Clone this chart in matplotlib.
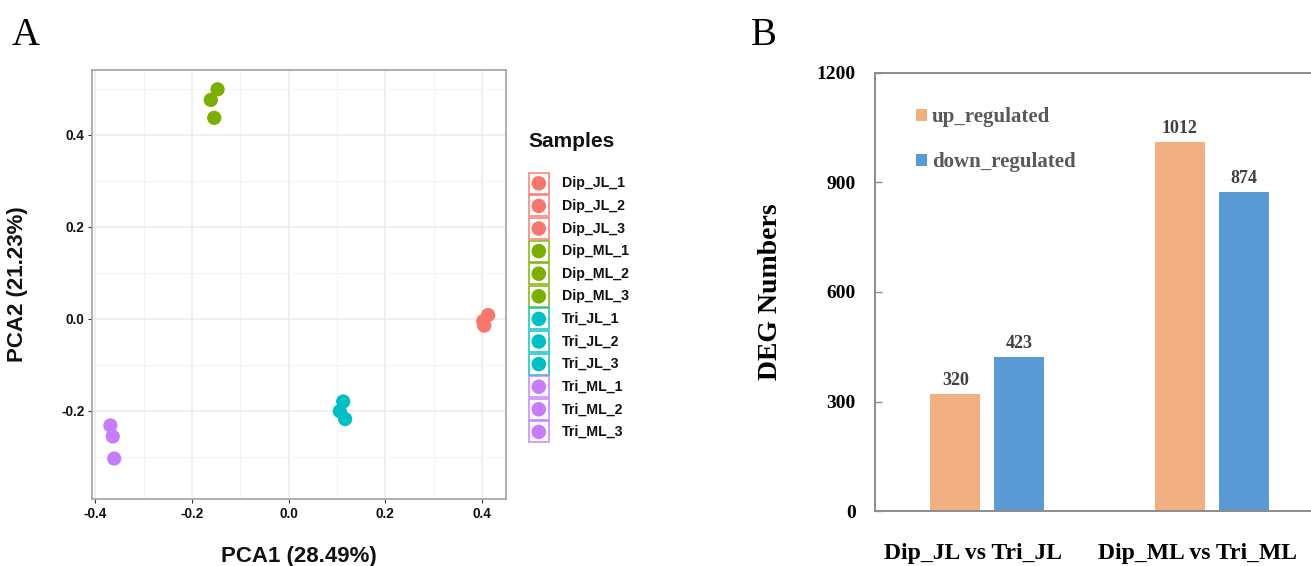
import matplotlib
matplotlib.use("Agg")
import matplotlib.pyplot as plt
from matplotlib.patches import Rectangle
from matplotlib.transforms import ScaledTranslation
import numpy as np

# ---------------- data ----------------
samples = ["Dip_JL_1", "Dip_JL_2", "Dip_JL_3",
           "Dip_ML_1", "Dip_ML_2", "Dip_ML_3",
           "Tri_JL_1", "Tri_JL_2", "Tri_JL_3",
           "Tri_ML_1", "Tri_ML_2", "Tri_ML_3"]
pc1 = [0.413, 0.403, 0.405, -0.147, -0.161, -0.154,
       0.113, 0.106, 0.117, -0.369, -0.364, -0.361]
pc2 = [0.008, -0.005, -0.015, 0.499, 0.476, 0.437,
       -0.180, -0.201, -0.218, -0.232, -0.256, -0.304]
group_colors = ["#F8766D", "#7CAE00", "#00BFC4", "#C77CFF"]
sample_colors = [c for c in group_colors for _ in range(3)]

comparisons = ["Dip_JL vs Tri_JL", "Dip_ML vs Tri_ML"]
up_regulated = [320, 1012]
down_regulated = [423, 874]
series_names = ["up_regulated", "down_regulated"]
bar_colors = ["#F2AF82", "#5B9BD5"]

W, H = 1311, 566
fig = plt.figure(figsize=(W / 100, H / 100), dpi=100)

SANS = ["Liberation Sans", "DejaVu Sans"]
SERIF = ["Liberation Serif", "DejaVu Serif"]

# ---------------- Panel A: PCA ----------------
axA = fig.add_axes([92 / W, 1 - 499 / H, 414 / W, 429 / H])
axA.set_facecolor("white")
axA.scatter(pc1, pc2, s=105, c=sample_colors, edgecolors="none", zorder=3)
axA.set_xlim(-0.407, 0.45)
axA.set_ylim(-0.392, 0.541)
axA.set_xticks([-0.4, -0.2, 0.0, 0.2, 0.4])
axA.set_yticks([-0.2, 0.0, 0.2, 0.4])
axA.set_xticks([-0.3, -0.1, 0.1, 0.3], minor=True)
axA.set_yticks([-0.3, -0.1, 0.1, 0.3, 0.5], minor=True)
axA.grid(which="major", color="#EBEBEB", linewidth=1.1, zorder=0)
axA.grid(which="minor", color="#F3F3F3", linewidth=0.8, zorder=0)
axA.set_axisbelow(True)
axA.set_xticklabels(["-0.4", "-0.2", "0.0", "0.2", "0.4"])
axA.set_yticklabels(["-0.2", "0.0", "0.2", "0.4"])
axA.tick_params(which="major", length=3, width=0.8, color="#333333",
                labelsize=9.8, pad=2.5, labelcolor="#111111")
axA.tick_params(which="minor", length=0)
for lab in axA.get_xticklabels() + axA.get_yticklabels():
    lab.set_fontfamily(SANS)
    lab.set_fontweight("bold")
for sp in axA.spines.values():
    sp.set_color("#A8A8A8")
    sp.set_linewidth(1.3)
axA.set_xlabel("PCA1 (28.49%)", fontsize=16, fontweight="bold",
               family=SANS, labelpad=18, color="#111111")
axA.set_ylabel("PCA2 (21.23%)", fontsize=16, fontweight="bold",
               family=SANS, labelpad=24, color="#111111")

# ---------------- Panel B: DEG bars ----------------
axB = fig.add_axes([875 / W, 1 - 511 / H, 449 / W, 438 / H])
x = np.arange(len(comparisons))
bw = 0.222
off = 0.142
b_up = axB.bar(x - off, up_regulated, width=bw, color=bar_colors[0],
               label=series_names[0], zorder=2)
b_dn = axB.bar(x + off, down_regulated, width=bw, color=bar_colors[1],
               label=series_names[1], zorder=2)
for bars, vals in [(b_up, up_regulated), (b_dn, down_regulated)]:
    for rect, v in zip(bars, vals):
        axB.annotate(str(v), (rect.get_x() + rect.get_width() / 2, v),
                     xytext=(0, 3.5), textcoords="offset points",
                     ha="center", va="bottom", fontsize=13,
                     fontweight="bold", family=SERIF, color="#404040")
axB.set_xlim(-0.5, 1.5)
axB.set_ylim(0, 1200)
axB.set_yticks([0, 300, 600, 900, 1200])
axB.set_xticks(x)
axB.set_xticklabels(comparisons)
axB.tick_params(axis="y", direction="in", length=5, width=1.0,
                color="#8C8C8C", labelsize=14, pad=14)
axB.tick_params(axis="x", length=0, labelsize=17, pad=23)
for lab in axB.get_yticklabels():
    lab.set_fontfamily(SERIF)
    lab.set_fontweight("bold")
for lab in axB.get_xticklabels():
    lab.set_fontfamily(SERIF)
    lab.set_fontweight("bold")
    lab.set_transform(lab.get_transform() +
                      ScaledTranslation(-14 / 100, 0, fig.dpi_scale_trans))
for sp in axB.spines.values():
    sp.set_color("#8C8C8C")
    sp.set_linewidth(1.4)
axB.set_ylabel("DEG Numbers", fontsize=20, fontweight="bold", family=SERIF,
               labelpad=24)
leg = axB.legend(loc="upper left", bbox_to_anchor=(0.05, 0.965),
                 frameon=False, handlelength=0.5, handleheight=0.5,
                 handletextpad=0.25, labelspacing=1.2,
                 prop={"family": SERIF, "weight": "bold", "size": 15})
for t in leg.get_texts():
    t.set_color("#595959")

# ---------------- overlay: panel letters + sample legend ----------------
ov = fig.add_axes([0, 0, 1, 1], facecolor="none")
ov.set_xlim(0, W)
ov.set_ylim(H, 0)
ov.axis("off")
ov.text(12, 45, "A", fontsize=28, family=SERIF, ha="left", va="baseline")
ov.text(751, 45, "B", fontsize=28, family=SERIF, ha="left", va="baseline")

ov.text(528, 147, "Samples", fontsize=15, fontweight="bold", family=SANS,
        ha="left", va="baseline", color="#111111")
row_h = 22.6
top = 172
for i, (name, col) in enumerate(zip(samples, sample_colors)):
    y0 = top + i * row_h
    ov.add_patch(Rectangle((528.5, y0 + 0.8), 20.5, 21, facecolor="white",
                           edgecolor=col, alpha=0.75, linewidth=1.4))
    ov.scatter([538.8], [y0 + 11.3], s=110, color=col, edgecolors="none")
    ov.text(562, y0 + 11.3, name, fontsize=10.2, fontweight="bold", family=SANS,
            ha="left", va="center", color="#111111")

fig.savefig("out.png", dpi=100)
